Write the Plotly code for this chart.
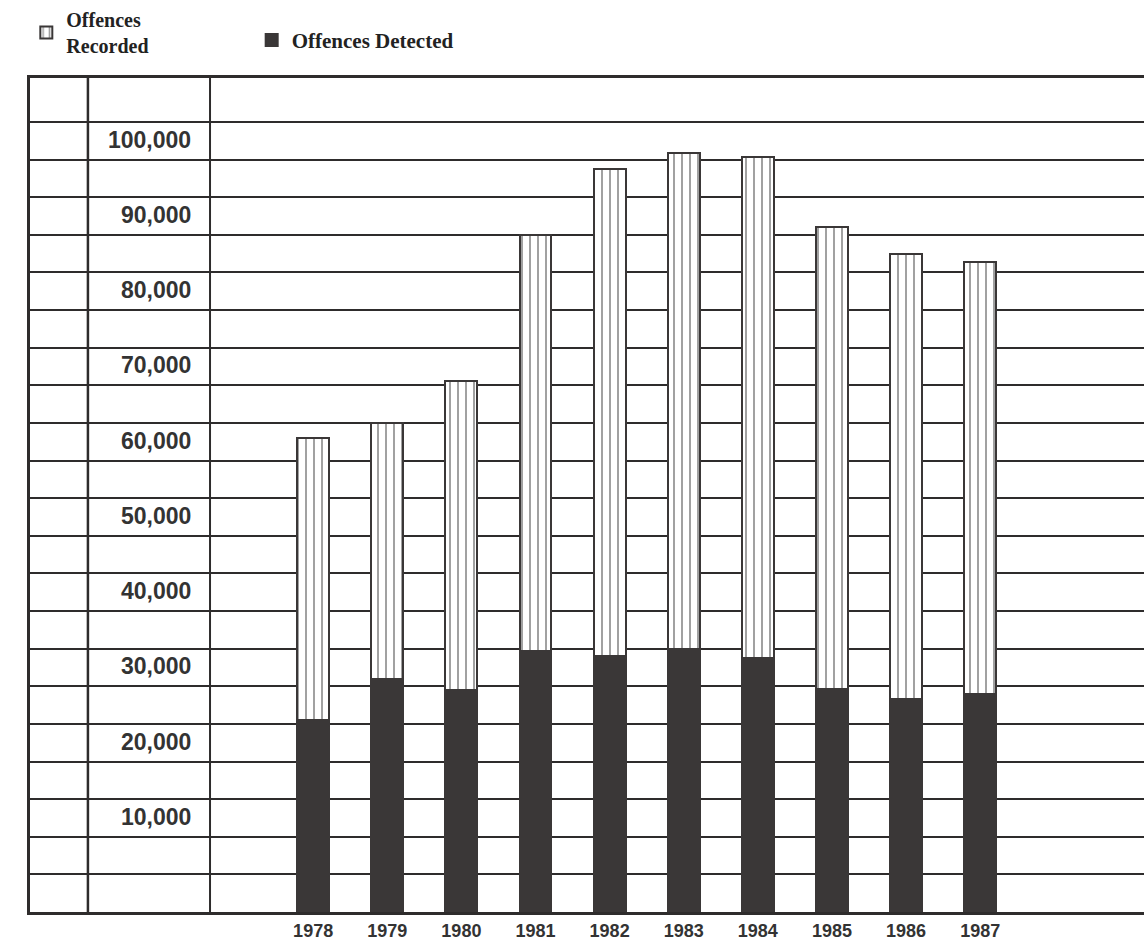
import plotly.graph_objects as go

years = [1978, 1979, 1980, 1981, 1982, 1983, 1984, 1985, 1986, 1987]
recorded = [63000, 65000, 70600, 90000, 98800, 100900, 100300, 91000, 87500, 86400]
detected = [25500, 31000, 29500, 34700, 34000, 35000, 33700, 29700, 28300, 29000]
y_ticks = [10000, 20000, 30000, 40000, 50000, 60000, 70000, 80000, 90000, 100000]
y_labels = ["10,000", "20,000", "30,000", "40,000", "50,000", "60,000", "70,000", "80,000", "90,000", "100,000"]
year_labels = [str(y) for y in years]
grid_step = 5000
y_max = 110832

INK = "#3a3737"
LINE = "#2e2c2c"

fig = go.Figure()
fig.add_trace(go.Bar(
    x=years, y=recorded, name="<b>Offences<br>Recorded</b>", width=0.43,
    legend="legend",
    marker=dict(color="white", line=dict(color=INK, width=2),
                pattern=dict(shape="|", size=8, solidity=0.25, fgcolor="#444", bgcolor="white")),
))
fig.add_trace(go.Bar(
    x=years, y=detected, name="<b>Offences Detected</b>", width=0.43,
    legend="legend2",
    marker=dict(color=INK, line=dict(color=INK, width=1)),
))

legend_font = dict(family="Liberation Serif", size=20, color="#222")

# y-axis value labels, right-aligned in the label column
label_x = (193 - 30) / 1114
annotations = [
    dict(x=label_x, xref="paper", y=v, yref="y", text=t, showarrow=False,
         xanchor="right", yanchor="middle", yshift=20,
         font=dict(family="Liberation Sans", size=23, color="#333", weight="bold"))
    for v, t in zip(y_ticks, y_labels)
]

minor_vals = list(range(grid_step, int(y_max) - grid_step // 2, grid_step))
minor_vals = [v for v in minor_vals if v < 108000]

fig.update_layout(
    width=1144, height=941,
    margin=dict(l=30, r=0, t=78, b=24),
    paper_bgcolor="white", plot_bgcolor="white",
    barmode="overlay", bargap=0,
    showlegend=True,
    legend=dict(orientation="h", xref="container", yref="container", x=0.023, y=1.0,
                xanchor="left", yanchor="top", font=legend_font, itemsizing="constant"),
    legend2=dict(orientation="h", xref="container", yref="container", x=0.22, y=0.979,
                 xanchor="left", yanchor="top", font=dict(family="Liberation Serif", size=21, color="#222"),
                 itemsizing="constant"),
    xaxis=dict(range=[1974.18, 1989.21], tickmode="array", tickvals=years, ticktext=year_labels,
               showgrid=False, zeroline=False, showline=True, linecolor=LINE, linewidth=3,
               mirror=True, ticks="", showticklabels=True,
               tickfont=dict(family="Liberation Sans", size=18, color="#333", weight="bold")),
    yaxis=dict(range=[0, y_max], tickmode="array", tickvals=y_ticks, showticklabels=False,
               ticks="", showgrid=True, gridcolor=LINE, gridwidth=2, zeroline=False,
               showline=True, linecolor=LINE, linewidth=3, mirror=False,
               minor=dict(tickmode="array", tickvals=minor_vals, showgrid=True,
                          gridcolor=LINE, gridwidth=2)),
    annotations=annotations,
    shapes=[
        dict(type="line", xref="paper", yref="paper", x0=0.052, x1=0.052, y0=0, y1=1,
             line=dict(color=LINE, width=2.5)),
        dict(type="line", xref="paper", yref="paper", x0=0.1616, x1=0.1616, y0=0, y1=1,
             line=dict(color=LINE, width=2)),
    ],
)

fig.write_html("out.html", config={"displayModeBar": False},
               post_script="document.body.style.margin='0';")
